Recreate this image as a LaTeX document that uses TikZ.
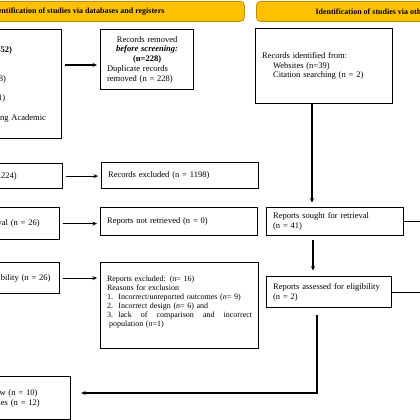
\documentclass[tikz,border=0pt]{standalone}
\usepackage{fontspec}
\setmainfont{Liberation Serif}
\usetikzlibrary{arrows.meta}
\definecolor{bannerfill}{HTML}{FFC000}
\definecolor{bannerline}{HTML}{BF9000}
\tikzset{
  box/.style={draw,line width=1.2pt,anchor=north west,inner xsep=6.5pt,inner ysep=0pt,align=left,font=\fontsize{8.5}{9.75}\selectfont},
  banner/.style={draw=bannerline,fill=bannerfill,line width=.8pt,rounded corners=4pt,anchor=north west,minimum height=20pt,inner sep=0pt,font=\bfseries\fontsize{8}{9}\selectfont}
}
\begin{document}
\begin{tikzpicture}[x=1pt,y=-1pt,>={Stealth[length=4.5pt,width=4pt]},line width=1.1pt]
\useasboundingbox (0,0) rectangle (420,420);
\clip (0,0) rectangle (420,420);
% headers
\node[banner,minimum width=334pt](bandb) at (-90,1){Identification of studies via databases and registers};
\node[banner,minimum width=262pt](banoth) at (256,1){Identification of studies via other methods};
% databases and registers
\node[box,minimum height=109pt,text width=139pt](iddb) at (-91,29){\hspace*{58pt}\textbf{(n = 1452)}\\~\\~\\\hspace*{61pt}(n = 38)\\~\\\hspace*{64.5pt}(n = 1)\\~\\\hspace*{84pt}ng Academic};
\node[box,minimum height=60pt,text width=80pt](removed) at (100,29){{\centering Records removed\\\textbf{\textit{before screening:}}\\\textbf{(n=228)}\par}Duplicate records\\removed (n = 228)};
\node[box,minimum height=25pt,text width=140pt](screened) at (-91,163){Records screened (n = 1224)};
\node[box,minimum height=26pt,text width=144pt](excluded) at (101,162){Records excluded (n = 1198)};
\node[box,minimum height=32pt,text width=141pt](soughtdb) at (-95,207){Reports sought for retrieval (n = 26)};
\node[box,minimum height=28pt,text width=144pt](notretr) at (100,207){Reports not retrieved (n = 0)};
\node[box,minimum height=31pt,text width=141pt](assessdb) at (-95,262){Reports assessed for eligibility (n = 26)};
\node[box,minimum height=86pt,text width=145pt,font=\fontsize{8}{9}\selectfont](repexcl) at (100,262){Reports excluded: (n= 16)\\Reasons for exclusion\\1.~~Incorrect/unreported outcomes (\textit{n}= 9)\\2.~~Incorrect design (\textit{n}= 6) and\\\makebox[\hsize][l]{3.~~lack\hfill of\hfill comparison\hfill and\hfill incorrect}\\\hspace*{2pt}population (\textit{n}=1)\\~};
\node[box,minimum height=43pt,text width=151pt](included) at (-94,376){Studies included in review (n = 10)\\Reports of included studies (n = 12)};
% other methods
\node[box,minimum height=75pt,text width=124pt](idoth) at (255,28){Records identified from:\\\hspace*{11pt}Websites (n=39)\\\hspace*{11pt}Citation searching (n = 2)};
\node[box,minimum height=28pt,text width=124pt](soughtoth) at (266,207){Reports sought for retrieval\\(n = 41)};
\node[box,minimum height=31pt,text width=112pt](assessoth) at (266,276){Reports assessed for eligibility\\(n = 2)};
% connectors
\coordinate (r1) at (0,65);
\coordinate (c1) at (312,0);
\coordinate (c2) at (313,0);
\coordinate (c3) at (317,393);
\coordinate (off) at (430,0);
\draw[->,shorten <=2.5pt,shorten >=3pt](iddb.east |- r1)--(removed.west |- r1);
\draw[->,shorten <=2.5pt,shorten >=3pt](screened.east)--(excluded.west |- screened.east);
\draw[->,shorten <=2.5pt,shorten >=3pt](soughtdb.east)--(notretr.west |- soughtdb.east);
\draw[->,shorten <=2.5pt,shorten >=3pt](assessdb.east)--(repexcl.west |- assessdb.east);
\draw[->,shorten >=4.5pt](idoth.south -| c1)--(soughtoth.north -| c1);
\draw[->,shorten <=4pt,shorten >=5.5pt](soughtoth.south -| c2)--(assessoth.north -| c2);
\draw(soughtoth.east)--(off |- soughtoth.east);
\draw(assessoth.east)--(off |- assessoth.east);
\draw[->,shorten <=7pt,shorten >=10pt](assessoth.south -| c3)|-(included.east |- c3);
\end{tikzpicture}
\end{document}
